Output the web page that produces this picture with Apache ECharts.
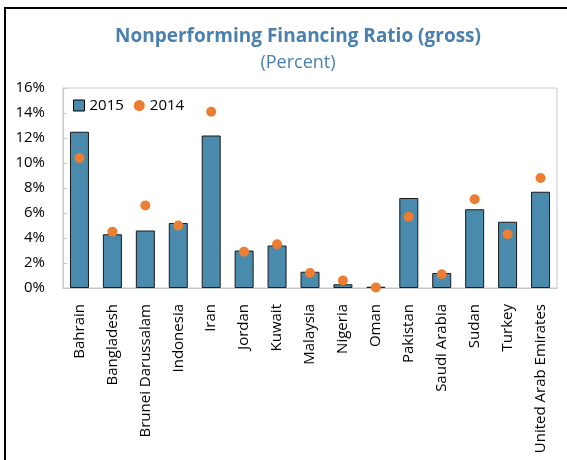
<!DOCTYPE html>
<html>
<head>
<meta charset="utf-8">
<script src="https://cdn.jsdelivr.net/npm/echarts@6/dist/echarts.min.js"></script>
<style>
  html, body { margin: 0; padding: 0; background: #fff; }
  #main { width: 567px; height: 460px; }
</style>
</head>
<body>
<div id="main"></div>
<script>
var countries = ['Bahrain', 'Bangladesh', 'Brunei Darussalam', 'Indonesia', 'Iran',
  'Jordan', 'Kuwait', 'Malaysia', 'Nigeria', 'Oman', 'Pakistan',
  'Saudi Arabia', 'Sudan', 'Turkey', 'United Arab Emirates'];
var npf2015 = [12.5, 4.3, 4.6, 5.2, 12.2, 3.0, 3.4, 1.3, 0.3, 0.1, 7.2, 1.2, 6.3, 5.3, 7.7];
var npf2014 = [10.4, 4.5, 6.6, 5.0, 14.1, 2.9, 3.5, 1.2, 0.6, 0.05, 5.7, 1.1, 7.1, 4.3, 8.8];

var font = 'Open Sans';
var chart = echarts.init(document.getElementById('main'));

var option = {
  animation: false,
  textStyle: { fontFamily: font },
  graphic: [{
    type: 'rect',
    shape: { x: 5, y: 8, width: 700, height: 700 },
    style: { fill: 'none', stroke: '#000', lineWidth: 2 }
  }],
  title: {
    text: 'Nonperforming Financing Ratio (gross)',
    subtext: '(Percent)',
    left: 293,
    textAlign: 'center',
    top: 22,
    itemGap: 8,
    textStyle: { color: '#4a80ad', fontSize: 19, fontWeight: 'bold', fontFamily: font },
    subtextStyle: { color: '#4a80ad', fontSize: 18, fontFamily: font }
  },
  legend: {
    left: 68,
    top: 93,
    itemWidth: 11,
    itemHeight: 11,
    itemGap: 10,
    textStyle: { fontSize: 15, color: '#000', fontFamily: font },
    data: [
      { name: '2015', icon: 'rect', itemStyle: { borderColor: '#000', borderWidth: 1 } },
      { name: '2014', icon: 'circle' }
    ]
  },
  grid: {
    left: 63, right: 10, top: 88, bottom: 172,
    show: true, borderColor: '#c8c8c8', borderWidth: 1
  },
  xAxis: [{
    type: 'category',
    data: countries,
    axisLine: { lineStyle: { color: '#c8c8c8' } },
    axisTick: { inside: true, length: 4, interval: 0, lineStyle: { color: '#c8c8c8' } },
    axisLabel: { rotate: 90, interval: 0, fontSize: 15, color: '#000', margin: 16, fontFamily: font }
  }, {
    type: 'category',
    data: countries,
    position: 'bottom',
    axisLine: { show: false },
    axisTick: { alignWithLabel: true, length: 4, interval: 0, lineStyle: { color: '#c8c8c8' } },
    axisLabel: { show: false }
  }],
  yAxis: {
    type: 'value',
    min: 0, max: 16, interval: 2,
    splitLine: { show: false },
    axisLine: { show: true, lineStyle: { color: '#c8c8c8' } },
    axisTick: { show: true, inside: true, length: 4, lineStyle: { color: '#c8c8c8' } },
    axisLabel: { formatter: '{value}%', fontSize: 15, color: '#000', margin: 18, fontFamily: font }
  },
  series: [{
    name: '2015',
    type: 'bar',
    data: npf2015,
    barWidth: 19,
    itemStyle: { color: '#4a8aad', borderColor: '#1a1a1a', borderWidth: 1 }
  }, {
    name: '2014',
    type: 'scatter',
    data: npf2014,
    symbol: 'circle',
    symbolSize: 10,
    itemStyle: { color: '#ed7d31', opacity: 1 },
    z: 3
  }]
};
chart.setOption(option);
</script>
</body>
</html>
